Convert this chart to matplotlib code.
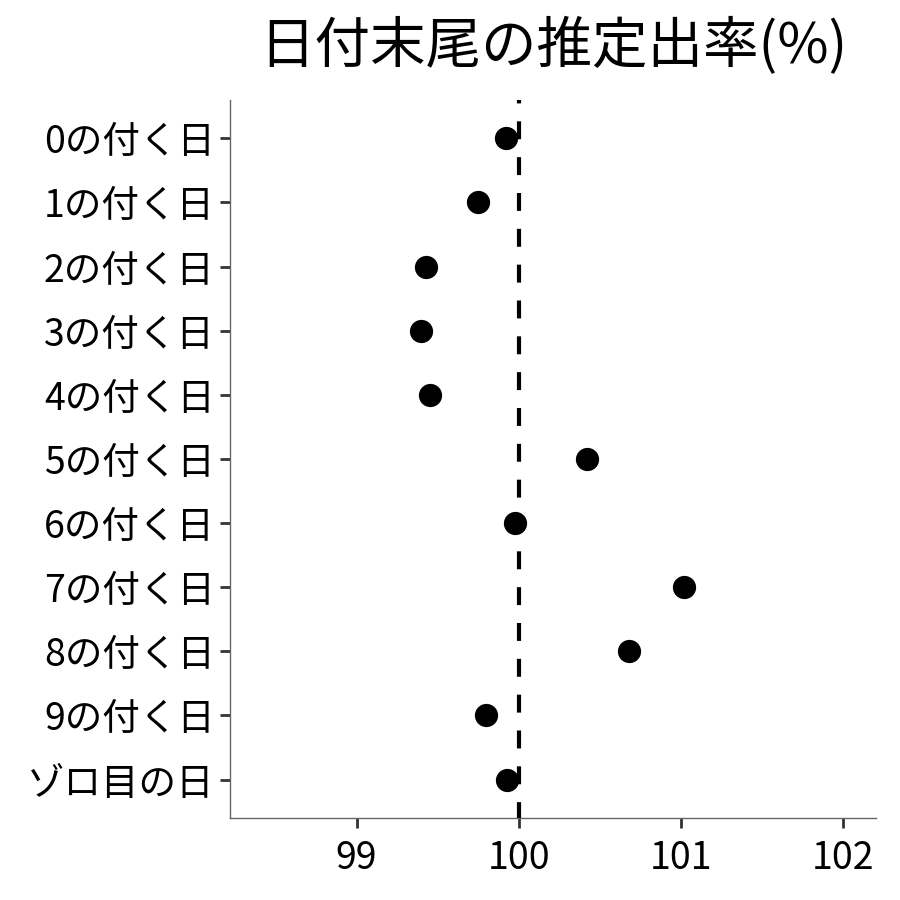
import matplotlib
matplotlib.use("Agg")
import matplotlib.pyplot as plt

plt.rcParams['font.family'] = ['Noto Sans CJK JP', 'DejaVu Sans']

categories = ["0の付く日", "1の付く日", "2の付く日", "3の付く日", "4の付く日",
              "5の付く日", "6の付く日", "7の付く日", "8の付く日", "9の付く日", "ゾロ目の日"]
values = [99.92, 99.75, 99.43, 99.40, 99.45, 100.42, 99.975, 101.02, 100.68, 99.80, 99.93]
xticks = [99, 100, 101, 102]
title = "日付末尾の推定出率(%)"

fig = plt.figure(figsize=(9, 9), dpi=100)
ax = fig.add_axes([0.2556, 0.0911, 0.7174, 0.7979])

ypos = list(range(len(categories)))[::-1]
ax.scatter(values, ypos, s=280, color='black', zorder=2, linewidths=0)
ax.axvline(100, color='black', linestyle=(0.5, (4.3, 4.3)), linewidth=3, zorder=3)

ax.set_xlim(98.22, 102.2)
ax.set_ylim(-0.6, len(categories) - 1 + 0.6)
ax.set_xticks(xticks)
ax.set_xticklabels([str(t) for t in xticks])
ax.set_yticks(ypos)
ax.set_yticklabels(categories)

for s in ['top', 'right']:
    ax.spines[s].set_visible(False)
for s in ['left', 'bottom']:
    ax.spines[s].set_color('#666666')
    ax.spines[s].set_linewidth(1.0)

ax.tick_params(axis='both', colors='#333333', labelcolor='black', labelsize=27,
               length=7, width=2)
ax.tick_params(axis='x', pad=8)
ax.tick_params(axis='y', pad=4)

fig.text(0.6144, 0.948, title, ha='center', va='center', fontsize=40)

fig.savefig("out.png", dpi=100)
